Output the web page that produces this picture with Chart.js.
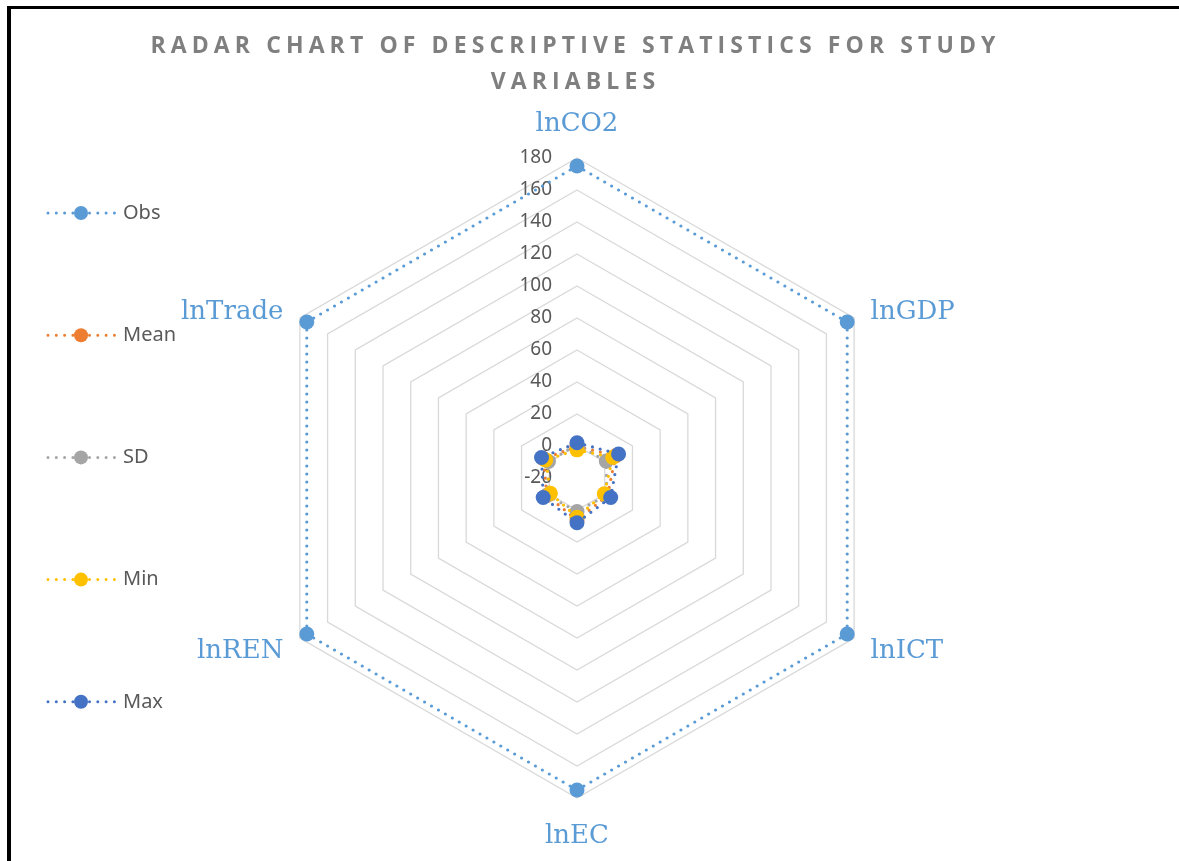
<!DOCTYPE html>
<html>
<head>
<meta charset="utf-8">
<title>Radar chart of descriptive statistics</title>
<script src="https://cdn.jsdelivr.net/npm/chart.js@4.4.1/dist/chart.umd.min.js"></script>
<style>
    html, body { margin: 0; padding: 0; background: #fff; }
    #wrap { position: relative; width: 1179px; height: 861px; overflow: hidden; }
    #wrap canvas { position: absolute; left: 0; top: 0; }
    #frame {
        position: absolute; left: 7px; top: 6px; right: -20px; bottom: -20px;
        border-left: 4px solid #000; border-top: 3px solid #000;
        pointer-events: none;
    }
</style>
</head>
<body>
<div id="wrap">
    <canvas id="chart" width="1179" height="861"></canvas>
    <div id="frame"></div>
</div>
<script>
// chart data
const titleLines = ['RADAR CHART OF DESCRIPTIVE STATISTICS FOR STUDY', 'VARIABLES'];
const categories = ['lnCO2', 'lnGDP', 'lnICT', 'lnEC', 'lnREN', 'lnTrade'];
const seriesNames = ['Obs', 'Mean', 'SD', 'Min', 'Max'];
const obsValues = [175, 175, 175, 175, 175, 175];
const meanValues = [-0.3, 7.9, 2.0, 6.3, 1.8, 4.1];
const sdValues = [1.0, 1.1, 1.5, 0.9, 1.6, 0.6];
const minValues = [-2.4, 5.8, -0.3, 4.5, -0.8, 2.6];
const maxValues = [2.0, 10.0, 4.3, 8.0, 4.4, 5.6];
const axisMin = -20;
const axisMax = 180;
const axisStep = 20;

const seriesColors = ['#5B9BD5', '#ED7D31', '#A5A5A5', '#FFC000', '#4472C4'];
const seriesValues = [obsValues, meanValues, sdValues, minValues, maxValues];

// title drawn by hand so it can get the wide letter spacing
const spacedTitle = {
    id: 'spacedTitle',
    afterDraw(chart) {
        const ctx = chart.ctx;
        ctx.save();
        ctx.font = 'bold 23px "Open Sans"';
        ctx.fillStyle = '#7F7F7F';
        ctx.textAlign = 'center';
        ctx.textBaseline = 'middle';
        ctx.letterSpacing = '5.1px';
        titleLines.forEach((line, i) => {
            ctx.fillText(line, 575.5, 46 + i * 36);
        });
        ctx.restore();
    }
};

// axis numbers sit to the left of the vertical axis, like excel does it
const axisNumbers = {
    id: 'axisNumbers',
    beforeDatasetsDraw(chart) {
        const r = chart.scales.r;
        const ctx = chart.ctx;
        ctx.save();
        ctx.font = '19px "Noto Sans"';
        ctx.fillStyle = '#595959';
        ctx.textAlign = 'right';
        ctx.textBaseline = 'middle';
        r.ticks.forEach(t => {
            const y = r.yCenter - r.getDistanceFromCenterForValue(t.value);
            ctx.fillText(t.label, r.xCenter - 25, y);
        });
        ctx.restore();
    }
};

// category names next to the outer ring, placed the excel way
const categoryNames = {
    id: 'categoryNames',
    afterDatasetsDraw(chart) {
        const r = chart.scales.r;
        const ctx = chart.ctx;
        ctx.save();
        ctx.font = '26px "DejaVu Serif"';
        ctx.fillStyle = '#5B9BD5';
        chart.data.labels.forEach((name, i) => {
            let p = r.getPointPosition(i, r.drawingArea + 19);
            const dx = p.x - r.xCenter;
            if (Math.abs(dx) < 2) {
                const above = p.y < r.yCenter;
                p = r.getPointPosition(i, r.drawingArea + (above ? 21 : 25));
                ctx.textAlign = 'center';
                ctx.textBaseline = above ? 'bottom' : 'top';
                ctx.fillText(name, p.x, p.y);
            } else {
                ctx.textAlign = dx > 0 ? 'left' : 'right';
                ctx.textBaseline = 'middle';
                ctx.fillText(name, p.x, p.y + 4);
            }
        });
        ctx.restore();
    }
};

// vertical legend on the left, dotted line with a marker
const sideLegend = {
    id: 'sideLegend',
    afterDraw(chart) {
        const ctx = chart.ctx;
        chart.data.datasets.forEach((ds, i) => {
            const y = 213 + i * 122.2;
            ctx.save();
            ctx.strokeStyle = ds.borderColor;
            ctx.lineWidth = 3;
            ctx.lineCap = 'round';
            ctx.setLineDash([0, 8.3]);
            ctx.beginPath();
            ctx.moveTo(48, y);
            ctx.lineTo(116, y);
            ctx.stroke();
            ctx.setLineDash([]);
            ctx.fillStyle = ds.pointBackgroundColor;
            ctx.beginPath();
            ctx.arc(81, y, 7, 0, Math.PI * 2);
            ctx.fill();
            ctx.font = '20px "Noto Sans"';
            ctx.fillStyle = '#595959';
            ctx.textAlign = 'left';
            ctx.textBaseline = 'middle';
            ctx.fillText(ds.label, 123, y);
            ctx.restore();
        });
    }
};

const datasets = seriesNames.map((name, i) => ({
    label: name,
    data: seriesValues[i],
    borderColor: seriesColors[i],
    backgroundColor: seriesColors[i],
    pointBackgroundColor: seriesColors[i],
    pointBorderColor: seriesColors[i],
    pointBorderWidth: 0,
    pointRadius: 7.5,
    borderWidth: 3.2,
    borderDash: [0, 8],
    borderCapStyle: 'round',
    fill: false,
    tension: 0,
    order: seriesNames.length - i
}));

new Chart(document.getElementById('chart'), {
    type: 'radar',
    data: {
        labels: categories,
        datasets: datasets
    },
    options: {
        responsive: false,
        animation: false,
        devicePixelRatio: 1,
        events: [],
        layout: {
            padding: { top: 158, bottom: 63, left: 0, right: 25 }
        },
        plugins: {
            legend: { display: false },
            title: { display: false },
            tooltip: { enabled: false }
        },
        scales: {
            r: {
                min: axisMin,
                max: axisMax,
                ticks: { stepSize: axisStep, display: false },
                grid: { color: '#D9D9D9', lineWidth: 1.3 },
                angleLines: { display: false },
                pointLabels: { display: false }
            }
        }
    },
    plugins: [axisNumbers, categoryNames, sideLegend, spacedTitle]
});
</script>
</body>
</html>
